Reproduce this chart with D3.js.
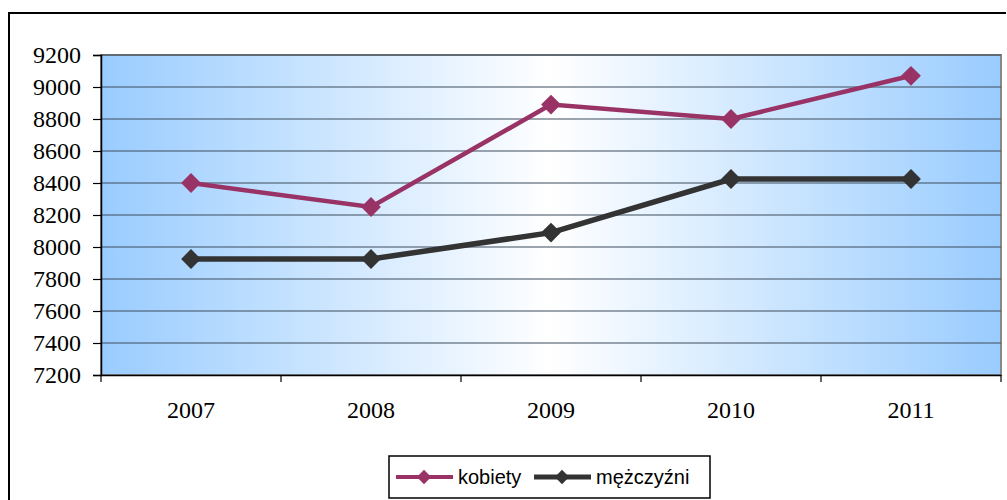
<!DOCTYPE html>
<html>
<head>
<meta charset="utf-8">
<script src="https://cdn.jsdelivr.net/npm/d3@7"></script>
<style>
  body { margin: 0; background: #fff; }
</style>
</head>
<body>
<div class="chart"></div>
<script>
// data
var years = ["2007", "2008", "2009", "2010", "2011"];
var kobiety = [8400, 8250, 8890, 8800, 9070];
var mezczyzni = [7925, 7925, 8090, 8425, 8425];
var yTicks = [7200, 7400, 7600, 7800, 8000, 8200, 8400, 8600, 8800, 9000, 9200];

var svgWidth = 1007;
var svgHeight = 500;
var plot = { left: 101, top: 55, right: 1001, bottom: 375 };
var serif = "Liberation Serif";
var sans = "Liberation Sans";

var svg = d3.select(".chart").append("svg")
  .attr("width", svgWidth)
  .attr("height", svgHeight);

// gradient background: blue at edges, white in the middle
var grad = svg.append("defs").append("linearGradient")
  .attr("id", "bg").attr("x1", "0%").attr("x2", "100%").attr("y1", "0%").attr("y2", "0%");
grad.append("stop").attr("offset", "0%").attr("stop-color", "#99ccff");
grad.append("stop").attr("offset", "50%").attr("stop-color", "#ffffff");
grad.append("stop").attr("offset", "100%").attr("stop-color", "#99ccff");

// outer chart border (right/bottom run off the picture)
svg.append("path")
  .attr("d", "M9,500 L9,13 L1006,13")
  .attr("fill", "none").attr("stroke", "#000").attr("stroke-width", 2);

var x = d3.scaleBand().domain(years).range([plot.left, plot.right]);
var y = d3.scaleLinear().domain([7200, 9200]).range([plot.bottom, plot.top]);

svg.append("rect")
  .attr("x", plot.left).attr("y", plot.top)
  .attr("width", plot.right - plot.left).attr("height", plot.bottom - plot.top)
  .attr("fill", "url(#bg)").attr("stroke", "#888").attr("stroke-width", 2);

// horizontal grid
svg.append("g").selectAll("line").data(yTicks.slice(1)).enter().append("line")
  .attr("x1", plot.left).attr("x2", plot.right)
  .attr("y1", function(d) { return y(d); }).attr("y2", function(d) { return y(d); })
  .attr("stroke", "#3d4d5d").attr("stroke-width", 1.2);

// y axis: ticks from d3, labels in serif
var yAxis = svg.append("g")
  .attr("transform", "translate(" + plot.left + ",0)")
  .call(d3.axisLeft(y).tickValues(yTicks).tickSize(8).tickFormat(""));
yAxis.select(".domain").attr("stroke", "#000").attr("stroke-width", 1.5);
yAxis.selectAll(".tick line").attr("stroke", "#000").attr("stroke-width", 1.2);
svg.append("g").selectAll("text").data(yTicks).enter().append("text")
  .attr("x", 81).attr("y", function(d) { return y(d); }).attr("dy", "0.34em")
  .attr("text-anchor", "end")
  .style("font-family", serif).style("font-size", "24px").attr("fill", "#000")
  .text(function(d) { return d; });

// x axis
var xAxis = svg.append("g")
  .attr("transform", "translate(0," + plot.bottom + ")")
  .call(d3.axisBottom(x).tickSize(0).tickPadding(26));
xAxis.attr("font-family", null).attr("font-size", null);
xAxis.select(".domain").attr("stroke", "#000").attr("stroke-width", 1.5);
xAxis.selectAll(".tick text").attr("dy", "0.7em")
  .style("font-family", serif).style("font-size", "24px").attr("fill", "#000");
// category separator ticks
svg.append("g").selectAll("line")
  .data(years.map(function(d) { return x(d); }).concat([plot.right])).enter().append("line")
  .attr("x1", function(d) { return d; }).attr("x2", function(d) { return d; })
  .attr("y1", plot.bottom).attr("y2", plot.bottom + 7)
  .attr("stroke", "#000").attr("stroke-width", 1.2);

var line = d3.line()
  .x(function(d, i) { return x(years[i]) + x.bandwidth() / 2; })
  .y(function(d) { return y(d); });

var diamond = d3.symbol().type(d3.symbolDiamond2).size(250);

function drawSeries(values, color, width) {
  svg.append("path").datum(values)
    .attr("d", line).attr("fill", "none")
    .attr("stroke", color).attr("stroke-width", width);
  svg.append("g").selectAll("path").data(values).enter().append("path")
    .attr("d", diamond)
    .attr("transform", function(d, i) {
      return "translate(" + (x(years[i]) + x.bandwidth() / 2) + "," + y(d) + ")";
    })
    .attr("fill", color);
}
drawSeries(kobiety, "#993366", 4.5);
drawSeries(mezczyzni, "#333333", 5.5);

// legend
var legend = svg.append("g");
legend.append("rect")
  .attr("x", 389).attr("y", 456).attr("width", 321).attr("height", 42)
  .attr("fill", "#fff").attr("stroke", "#000").attr("stroke-width", 1.5);
var items = [
  { name: "kobiety", color: "#993366", w: 4, x0: 396 },
  { name: "mężczyźni", color: "#333333", w: 5, x0: 534 }
];
items.forEach(function(it) {
  legend.append("line")
    .attr("x1", it.x0).attr("x2", it.x0 + 57).attr("y1", 477).attr("y2", 477)
    .attr("stroke", it.color).attr("stroke-width", it.w);
  legend.append("path").attr("d", d3.symbol().type(d3.symbolDiamond2).size(130))
    .attr("transform", "translate(" + (it.x0 + 28) + ",477)").attr("fill", it.color);
  legend.append("text")
    .style("font-family", sans).style("font-size", "20px").attr("fill", "#000")
    .attr("x", it.x0 + 62).attr("y", 484).text(it.name);
});
</script>
</body>
</html>
